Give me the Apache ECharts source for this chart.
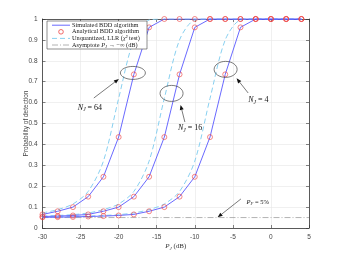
<!DOCTYPE html>
<html><head><meta charset="utf-8">
<script src="https://cdn.jsdelivr.net/npm/echarts@6/dist/echarts.min.js"></script>
<style>html,body{margin:0;padding:0;background:#fff}#c{width:342px;height:257px}</style>
</head><body><div id="c"></div>
<script>
const pj = [-30,-28,-26,-24,-22,-20,-18,-16,-14,-12,-10,-8,-6,-4,-2,0,2,4];
const sim64 = [0.065,0.08,0.10,0.15,0.245,0.435,0.735,0.96,1,1,1,1,1,1,1,1,1,1];
const sim16 = [0.055,0.057,0.06,0.065,0.08,0.10,0.15,0.245,0.435,0.735,0.96,1,1,1,1,1,1,1];
const sim4  = [0.051,0.052,0.053,0.055,0.057,0.06,0.065,0.08,0.10,0.15,0.245,0.435,0.735,0.96,1,1,1,1];
const ana64 = [0.065,0.08,0.10,0.15,0.245,0.435,0.735,0.96,1,1,1,1,1,1,1,1,1,1];
const ana16 = [0.055,0.057,0.06,0.065,0.08,0.10,0.15,0.245,0.435,0.735,0.96,1,1,1,1,1,1,1];
const ana4  = [0.051,0.052,0.053,0.055,0.057,0.06,0.065,0.08,0.10,0.15,0.245,0.435,0.735,0.96,1,1,1,1];
const llr64 = [0.072,0.088,0.115,0.175,0.32,0.62,0.9,0.995,1,1,1,1,1,1,1,1,1,1];
const llr16 = [0.057,0.06,0.064,0.072,0.088,0.115,0.175,0.32,0.62,0.9,0.995,1,1,1,1,1,1,1];
const llr4  = [0.052,0.053,0.055,0.057,0.06,0.064,0.072,0.088,0.115,0.175,0.32,0.62,0.9,0.995,1,1,1,1];
const asymX = [-30,5];
const asymY = [0.05,0.05];
const legendNames = ['Simulated BDD algorithm','Analytical BDD algorithm','Unquantized, LLR (\u03C7\u00B2 test)','Asymptote'];

const C_SIM='#5858ff', C_ANA='#ee4444', C_LLR='#88d0f0', C_ASY='#a0a0a0';
const zip=(a,b)=>a.map((v,i)=>[v,b[i]]);
const serif='"Liberation Serif", "DejaVu Serif", serif';
const sans='"Liberation Sans", Arial, sans-serif';

const chart = echarts.init(document.getElementById('c'));
const axisCommon = {
  axisLine:{show:true,onZero:false,lineStyle:{color:'#333',width:0.8}},
  axisTick:{show:true,inside:true,length:3,lineStyle:{color:'#333',width:0.6}},
};
const series=[];
[llr64,llr16,llr4].forEach(d=>series.push({name:legendNames[2],type:'line',data:zip(pj,d),symbol:'none',smooth:0.3,lineStyle:{color:C_LLR,width:1,type:[5,3]},z:2}));
[sim64,sim16,sim4].forEach(d=>series.push({name:legendNames[0],type:'line',data:zip(pj,d),symbol:'none',lineStyle:{color:C_SIM,width:0.9},z:3}));
[ana64,ana16,ana4].forEach(d=>series.push({name:legendNames[1],type:'scatter',data:zip(pj,d),symbol:'circle',symbolSize:5,itemStyle:{color:'rgba(0,0,0,0)',borderColor:C_ANA,borderWidth:0.8},z:4}));
series.push({name:legendNames[3],type:'line',data:zip(asymX,asymY),symbol:'none',lineStyle:{color:C_ASY,width:0.8,type:[6,2,1,2]},z:1});

chart.setOption({
  animation:false,
  grid:{left:42.5,right:33,top:19,bottom:29},
  xAxis:[{type:'value',min:-30,max:5,interval:5,...axisCommon,
    axisLabel:{fontSize:6.5,color:'#444',fontFamily:sans,margin:6},
    splitLine:{show:true,lineStyle:{color:'#e6e6e6',width:0.6}},
    name:'{i|P}{s|J} (dB)',nameLocation:'middle',nameGap:14,nameMoveOverlap:false,
    nameTextStyle:{fontFamily:serif,fontSize:7,color:'#333',rich:{i:{fontStyle:'italic',fontFamily:serif,fontSize:7,color:'#333'},s:{fontStyle:'italic',fontFamily:serif,fontSize:5,color:'#333',padding:[4,0,0,0]}}}},
    {type:'value',position:'top',min:-30,max:5,interval:5,...axisCommon,axisLabel:{show:false},splitLine:{show:false}}],
  yAxis:[{type:'value',min:0,max:1,interval:0.1,...axisCommon,
    axisLabel:{fontSize:6.5,color:'#444',fontFamily:sans,margin:5,formatter:v=>String(Math.round(v*10)/10)},
    splitLine:{show:true,lineStyle:{color:'#e6e6e6',width:0.6}},
    name:'Probability of detection',nameLocation:'middle',nameGap:13,nameMoveOverlap:false,
    nameTextStyle:{fontFamily:sans,fontSize:6.5,color:'#444'}},
    {type:'value',position:'right',min:0,max:1,interval:0.1,...axisCommon,axisLabel:{show:false},splitLine:{show:false}}],
  series
});

const px=p=>chart.convertToPixel({xAxisIndex:0,yAxisIndex:0},p);
const g=[];
// legend (drawn as graphic)
const L={x:47,y:21,w:100,h:28};
g.push({type:'rect',shape:{x:L.x,y:L.y,width:L.w,height:L.h},style:{fill:'#fff',stroke:'#444',lineWidth:0.6},z:20});
const rowsY=[25.2,31.8,38.4,45];
const lx1=52,lx2=70,tx=72;
g.push({type:'line',shape:{x1:lx1,y1:rowsY[0],x2:lx2,y2:rowsY[0]},style:{stroke:C_SIM,lineWidth:0.9},z:21});
g.push({type:'circle',shape:{cx:(lx1+lx2)/2,cy:rowsY[1],r:2.3},style:{fill:null,stroke:C_ANA,lineWidth:0.8},z:21});
g.push({type:'line',shape:{x1:lx1,y1:rowsY[2],x2:lx2,y2:rowsY[2]},style:{stroke:C_LLR,lineWidth:1,lineDash:[5,3]},z:21});
g.push({type:'line',shape:{x1:lx1,y1:rowsY[3],x2:lx2,y2:rowsY[3]},style:{stroke:C_ASY,lineWidth:0.8,lineDash:[6,2,1,2]},z:21});
const lrich={n:{fontFamily:serif,fontSize:6.3,fill:'#222'},i:{fontFamily:serif,fontStyle:'italic',fontSize:6.3,fill:'#222'},s:{fontFamily:serif,fontStyle:'italic',fontSize:4.5,fill:'#222',padding:[3,0,0,0]}};
const ltexts=['{n|Simulated BDD algorithm}','{n|Analytical BDD algorithm}','{n|Unquantized, LLR (}{i|\u03C7}{n|\u00B2 test)}','{n|Asymptote }{i|P}{s|J}{n| \u2192 \u2212\u221E (dB)}'];
ltexts.forEach((t,k)=>g.push({type:'text',x:tx,y:rowsY[k],style:{text:t,rich:lrich,verticalAlign:'middle',align:'left'},z:21}));

// annotations anchored in data space
const ellipses=[[-18.13,0.742,12.5,6.5],[-13.05,0.644,11.5,8],[-5.95,0.759,11.5,8]];
const arrows=[[[-23.26,0.622],[-19.97,0.713]],[[-11.30,0.507],[-11.87,0.589]],[[-2.99,0.646],[-4.51,0.716]],[[-3.94,0.139],[-7.0,0.051]]];
const labels=[[-25.36,0.574,'64'],[-12.22,0.478,'16'],[-2.99,0.612,'4']];
ellipses.forEach(e=>{const c=px([e[0],e[1]]);g.push({type:'ellipse',shape:{cx:c[0],cy:c[1],rx:e[2],ry:e[3]},style:{fill:null,stroke:'#444',lineWidth:0.7},z:10});});
arrows.forEach(a=>{const t=px(a[0]),h=px(a[1]);const dx=h[0]-t[0],dy=h[1]-t[1],Ln=Math.hypot(dx,dy),ux=dx/Ln,uy=dy/Ln;const hl=5,hw=2;
  const b=[h[0]-ux*hl,h[1]-uy*hl];
  g.push({type:'line',shape:{x1:t[0],y1:t[1],x2:b[0],y2:b[1]},style:{stroke:'#222',lineWidth:0.6},z:10});
  g.push({type:'polygon',shape:{points:[h,[b[0]-uy*hw,b[1]+ux*hw],[b[0]+uy*hw,b[1]-ux*hw]]},style:{fill:'#111'},z:10});});
const rich={i:{fontStyle:'italic',fontFamily:serif,fontSize:8,fill:'#111'},s:{fontStyle:'italic',fontFamily:serif,fontSize:5.5,fill:'#111',padding:[4,0,0,0]},n:{fontFamily:serif,fontSize:8,fill:'#111'}};
labels.forEach(l=>{const p=px([l[0],l[1]]);g.push({type:'text',x:p[0],y:p[1],style:{text:'{i|N}{s|J}{n| = '+l[2]+'}',rich,verticalAlign:'middle',align:'left'},z:10});});
const pf=px([-3.2,0.124]);
g.push({type:'text',x:pf[0],y:pf[1],style:{text:'{i|P}{s|F}{n| = 5%}',rich:{i:{...rich.i,fontSize:6.5},s:{...rich.s,fontSize:4.5,padding:[3,0,0,0]},n:{...rich.n,fontSize:6.5}},verticalAlign:'middle',align:'left'},z:10});
chart.setOption({graphic:g});
</script></body></html>
